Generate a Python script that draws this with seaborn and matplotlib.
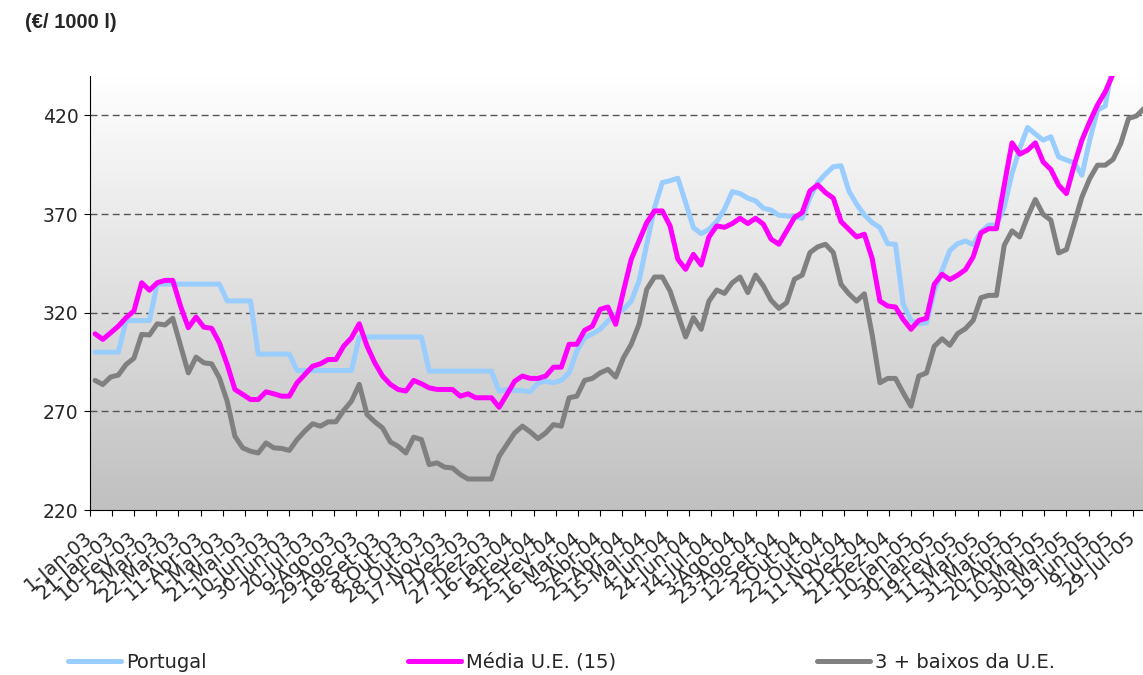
import numpy as np
import pandas as pd
import matplotlib
matplotlib.use("Agg")
import matplotlib.pyplot as plt
from matplotlib.colors import LinearSegmentedColormap
from matplotlib.lines import Line2D
import seaborn as sns

# weekly prices (EUR / 1000 l), first week 6-Jan-2003
first_week = "2003-01-06"

portugal = [300, 300, 300, 300, 316, 316, 316, 316,
            334.5, 334.5, 334.5, 334.5, 334.5, 334.5, 334.5, 334.5, 334.5,
            326, 326, 326, 326, 299, 299, 299, 299, 299,
            290.7, 290.7, 290.7, 290.7, 290.7, 290.7, 290.7, 290.7,
            307.7, 307.7, 307.7, 307.7, 307.7, 307.7, 307.7, 307.7, 307.7,
            290.4, 290.4, 290.4, 290.4, 290.4, 290.4, 290.4, 290.4, 290.4,
            280.3, 281, 280.6, 280.5, 279.9, 284.5, 285.3, 284.5, 285.7, 289.5,
            300.6, 307.3, 309.3, 311.6, 315.8, 319.2, 321.7, 325.9, 336.1, 354.7,
            373.3, 386, 386.9, 388.2, 375.8, 363.1, 360.1, 362.3, 366.2, 372.5,
            381.4, 380.4, 378.1, 376.7, 373, 372, 369.4, 369.1, 368.6, 367.9,
            378.4, 386, 390.3, 394, 394.5, 381.8, 375, 369.6, 365.7, 363.1,
            355, 354.7, 324.3, 316.1, 314.4, 314.9, 331, 341.5, 351.5, 355,
            356.4, 354.5, 361, 364.4, 364.4, 373.7, 390.6, 403.3, 413.9, 410.6,
            407.5, 409.2, 399, 397.4, 396, 389.7, 407.5, 422.7, 424.8, 447]

media_ue = [309.3, 306.5, 309.8, 313.2, 317.5, 320.9, 335.2, 331.4, 335.2, 336.4,
            336.4, 323.4, 312.4, 317.8, 312.7, 312.1, 304.8, 293.8, 281.1, 278.6,
            276, 276, 279.9, 278.9, 277.7, 277.7, 284.5, 288.7, 292.9, 294.1,
            296.3, 296.3, 303.1, 307.3, 314.4, 303.1, 294.6, 287.9, 283.7, 281.1,
            280.3, 285.7, 284, 281.9, 281.1, 281.1, 281.1, 277.7, 278.9, 276.9,
            276.9, 276.9, 272.1, 278.6, 285.3, 287.9, 286.7, 286.7, 287.9, 292.4,
            292.4, 304, 304, 311.1, 313.2, 321.7, 322.9, 314.1, 331, 347.1,
            356.4, 365.7, 371.6, 371.6, 364, 347.1, 342, 349.6, 344.2, 358.4,
            364, 363.3, 365.2, 367.9, 365.2, 367.9, 364.9, 357.3, 354.7, 361.5,
            368.2, 370.8, 381.8, 384.8, 380.9, 378.1, 366.2, 362.3, 358.4, 359.8,
            347.6, 325.9, 323.4, 322.9, 316.6, 311.6, 316.1, 317.2, 334.5, 339.5,
            336.8, 339, 341.8, 348.3, 360.5, 362.6, 362.6, 384.7, 406.1, 400.4,
            402.4, 406.1, 396.5, 392.6, 384.7, 380.4, 394.8, 407.5, 416.8, 425.3,
            432, 441]

baixos_ue = [285.7, 283.6, 287.4, 288.4, 293.8, 296.9, 309, 308.7, 314.4, 313.8,
             317.2, 303.4, 289.5, 297.5, 294.6, 294.1, 287, 275.2, 257.4, 251.5,
             249.8, 248.9, 254, 251.5, 251.2, 250.2, 255.7, 260, 263.7, 262.5,
             264.7, 264.7, 270.5, 275.2, 283.7, 268.4, 264.7, 261.6, 254.5, 252.3,
             248.9, 256.9, 255.7, 243, 243.9, 241.7, 241.3, 238, 235.7, 235.7,
             235.7, 235.7, 247.3, 253.2, 259.1, 262.5, 259.6, 256.2, 259.1, 263.3,
             262.5, 276.9, 277.7, 285.7, 286.7, 289.5, 291.3, 287.4, 297.2, 304,
             314.1, 331.9, 338.1, 338.1, 331, 319.2, 307.7, 317.5, 311.6, 325.9,
             331.5, 329.8, 335.2, 338.1, 330.2, 339.1, 333.6, 326.3, 322.2, 325.1,
             337, 339.1, 350.5, 353.4, 354.7, 350.5, 334.4, 329.6, 325.9, 329.6,
             309, 284.5, 286.7, 286.7, 279.4, 272.6, 287.9, 289.5, 303, 306.8,
             303.5, 309.4, 311.9, 316.1, 327.6, 328.8, 328.8, 354.2, 361.5, 358.4,
             368.6, 377.4, 369.9, 366.9, 350.3, 352, 365.2, 378.7, 388, 394.8,
             394.8, 397.7, 405.8, 418.5, 419.7, 423.6]

series_names = ["Portugal", "Média U.E. (15)", "3 + baixos da U.E."]
series_colors = ["#99CCFF", "#FF00FF", "#808080"]

tick_labels = ["1-Jan-03", "21-Jan-03", "10-Fev-03", "2-Mar-03", "22-Mar-03", "11-Abr-03",
               "1-Mai-03", "21-Mai-03", "10-Jun-03", "30-Jun-03", "20-Jul-03", "9-Ago-03",
               "29-Ago-03", "18-Set-03", "8-Out-03", "28-Out-03", "17-Nov-03", "7-Dez-03",
               "27-Dez-03", "16-Jan-04", "5-Fev-04", "25-Fev-04", "16-Mar-04", "5-Abr-04",
               "25-Abr-04", "15-Mai-04", "4-Jun-04", "24-Jun-04", "14-Jul-04", "3-Ago-04",
               "23-Ago-04", "12-Set-04", "2-Out-04", "22-Out-04", "11-Nov-04", "1-Dez-04",
               "21-Dez-04", "10-Jan-05", "30-Jan-05", "19-Fev-05", "11-Mar-05", "31-Mar-05",
               "20-Abr-05", "10-Mai-05", "30-Mai-05", "19-Jun-05", "9-Jul-05", "29-Jul-05"]

# long table for seaborn
frames = []
for name, vals in zip(series_names, [portugal, media_ue, baixos_ue]):
    frames.append(pd.DataFrame({
        "data": pd.date_range(first_week, periods=len(vals), freq="7D"),
        "preco": vals,
        "serie": name}))
df = pd.concat(frames, ignore_index=True)

sns.set_style("ticks")
plt.rcParams["font.family"] = ["DejaVu Sans"]

fig = plt.figure(figsize=(11.43, 6.75), dpi=100)
ax = fig.add_axes([89.5 / 1143, 165 / 675, 1 - 89.5 / 1143, 434 / 675])

# grey gradient background
grad = np.linspace(0, 1, 256).reshape(-1, 1)
cmap = LinearSegmentedColormap.from_list("bg", ["#ffffff", "#c0c0c0"])
ax.imshow(grad, extent=(0, 1, 0, 1), transform=ax.transAxes, aspect="auto",
          cmap=cmap, zorder=0, interpolation="bicubic")

sns.lineplot(data=df, x="data", y="preco", hue="serie", hue_order=series_names,
             palette=series_colors, estimator=None, linewidth=3.6, legend=False,
             ax=ax, zorder=3, solid_joinstyle="round", solid_capstyle="round")

ax.set_ylim(220, 440)
ax.set_xlim(pd.Timestamp("2003-01-01"), pd.Timestamp("2005-08-07"))
ax.set_yticks([220, 270, 320, 370, 420])
for yv in [270, 320, 370, 420]:
    ax.axhline(yv, color="#555555", linewidth=1.0, dashes=(5, 3), zorder=1)

tick_pos = pd.date_range("2003-01-01", periods=len(tick_labels), freq="20D")
ax.set_xticks(tick_pos)
ax.set_xticklabels(tick_labels, rotation=40, ha="right", va="center",
                   rotation_mode="anchor", fontsize=14)
ax.tick_params(axis="x", length=4, width=0.8, color="black", pad=14)
ax.tick_params(axis="y", length=4, width=0.8, color="black", labelsize=13.5, pad=4)

ax.set_xlabel("")
ax.set_ylabel("")
for s in ["top", "right"]:
    ax.spines[s].set_visible(False)
for s in ["left", "bottom"]:
    ax.spines[s].set_color("black")
    ax.spines[s].set_linewidth(0.8)

fig.text(25 / 1143, 1 - 22 / 675, "(€/ 1000 l)", fontsize=14.5, fontweight="bold",
         family=["Liberation Sans", "DejaVu Sans"], va="center", ha="left")

# legend entries spread along the bottom
leg_x = [68, 408, 817]
for name, color, lx in zip(series_names, series_colors, leg_x):
    h = Line2D([], [], color=color, linewidth=3.6, solid_capstyle="round")
    fig.legend(handles=[h], labels=[name], loc="center left",
               bbox_to_anchor=(lx / 1143, 1 - 662 / 675), frameon=False,
               fontsize=14, handlelength=2.7, handletextpad=0.3,
               borderpad=0, borderaxespad=0)

fig.savefig("out.png", dpi=100)
